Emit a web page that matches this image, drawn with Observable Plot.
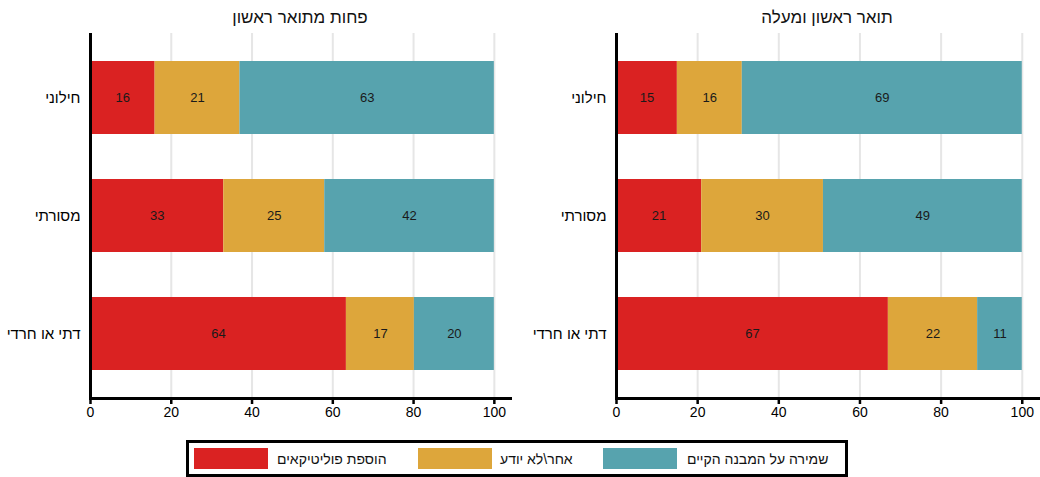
<!DOCTYPE html>
<html>
<head>
<meta charset="utf-8">
<script src="https://cdn.jsdelivr.net/npm/d3@7"></script>
<script src="https://cdn.jsdelivr.net/npm/@observablehq/plot@0.6"></script>
<style>
  body { margin: 0; background: #fff; font-family: "Liberation Sans", Arial, sans-serif; }
  #wrap { position: relative; width: 1040px; height: 477px; overflow: hidden; }
  .panel { position: absolute; top: 0; width: 520px; }
  .title { height: 33px; line-height: 36px; font-size: 17px; text-align: center; color: #111; direction: rtl; box-sizing: border-box; }
  .panel svg { display: block; }
  #legend { position: absolute; left: 186px; top: 440px; width: 662px; height: 37px; border: 3px solid #000; box-sizing: border-box; background: #fff; }
  .sw { position: absolute; top: 5px; width: 74px; height: 21px; }
  .lt { position: absolute; top: 5px; height: 21px; line-height: 22px; font-size: 14px; color: #111; direction: rtl; white-space: nowrap; }
</style>
</head>
<body>
<div id="wrap">
  <div class="panel" id="p1" style="left:0px"></div>
  <div class="panel" id="p2" style="left:520px"></div>
  <div id="legend"></div>
</div>
<script>
const panels = ["פחות מתואר ראשון", "תואר ראשון ומעלה"];
const categories = ["חילוני", "מסורתי", "דתי או חרדי"];
const seriesNames = ["הוספת פוליטיקאים", "אחר\\לא יודע", "שמירה על המבנה הקיים"];
const seriesColors = ["#da2222", "#dda63b", "#57a3ae"];
const xTicks = [0, 20, 40, 60, 80, 100];

// Less than a bachelor's degree
const lowAddPoliticians = [16, 33, 64];
const lowOther = [21, 25, 17];
const lowKeep = [63, 42, 20];
// Bachelor's degree and above
const highAddPoliticians = [15, 21, 67];
const highOther = [16, 30, 22];
const highKeep = [69, 49, 11];

const fontFamily = '"Liberation Sans", Arial, sans-serif';

function buildRows(seriesValues) {
  const rows = [];
  categories.forEach((cat, i) => {
    const total = d3.sum(seriesValues, v => v[i]);
    seriesNames.forEach((s, j) => {
      rows.push({cat, series: s, value: seriesValues[j][i], pct: seriesValues[j][i] / total * 100});
    });
  });
  return rows;
}

function makePanel(el, title, seriesValues, ml, mr) {
  const rows = buildRows(seriesValues);
  const t = document.createElement("div");
  t.className = "title";
  t.style.paddingLeft = ml + "px";
  t.style.paddingRight = mr + "px";
  t.textContent = title;
  el.appendChild(t);
  const chart = Plot.plot({
    width: 520,
    height: 392,
    marginTop: 0,
    marginBottom: 27,
    marginLeft: ml,
    marginRight: mr,
    style: {fontFamily, fontSize: "14px", color: "#000", background: "transparent", overflow: "visible"},
    x: {domain: [0, 104], ticks: xTicks, label: null},
    y: {domain: categories, paddingInner: 0.38, paddingOuter: 0.23, label: null},
    color: {domain: seriesNames, range: seriesColors},
    marks: [
      Plot.ruleX(xTicks.filter(d => d > 0), {stroke: "#e6e6e6", strokeWidth: 2}),
      Plot.barX(rows, Plot.stackX({x: "pct", y: "cat", fill: "series", order: seriesNames})),
      Plot.text(rows, Plot.stackX({x: "pct", y: "cat", z: "series", order: seriesNames, text: d => String(d.value), fill: "#1a1a1a", fontSize: 13})),
      Plot.axisX({ticks: xTicks, tickSize: 6, tickPadding: 3, strokeWidth: 2.5, fontSize: 14, label: null, fill: "#000"}),
      Plot.axisY({tickSize: 0, tickPadding: 10, fontSize: 15, label: null, fill: "#000"}),
      Plot.ruleX([0], {stroke: "#000", strokeWidth: 3}),
      Plot.frame({anchor: "bottom", stroke: "#000", strokeWidth: 3})
    ]
  });
  el.appendChild(chart);
}

makePanel(document.getElementById("p1"), panels[0], [lowAddPoliticians, lowOther, lowKeep], 90, 10);
makePanel(document.getElementById("p2"), panels[1], [highAddPoliticians, highOther, highKeep], 96, 2);

// legend
const legend = document.getElementById("legend");
const swLeft = [5, 229, 414];
const txLeft = [88, 311, 498];
seriesNames.forEach((s, i) => {
  const sw = document.createElement("div");
  sw.className = "sw";
  sw.style.left = swLeft[i] + "px";
  sw.style.background = seriesColors[i];
  legend.appendChild(sw);
  const tx = document.createElement("div");
  tx.className = "lt";
  tx.style.left = txLeft[i] + "px";
  tx.textContent = s;
  legend.appendChild(tx);
});
</script>
</body>
</html>
